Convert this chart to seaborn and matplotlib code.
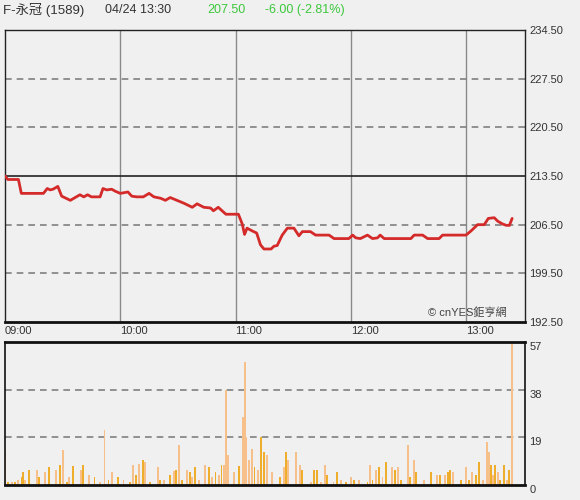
'''
Intraday chart for F-永冠 (1589): price line on top, volume bars below.
'''

import matplotlib
matplotlib.use('Agg')
import matplotlib.pyplot as plt
import seaborn as sns
import pandas as pd

# Price line: minutes after 09:00 and price
price_min = [0, 1.5, 7, 8.5, 20, 22, 23.5, 25, 27.5, 29.5, 31, 34, 36.5, 39, 41,
             43, 45, 49.5, 51, 53, 55.5, 57.5, 60, 64, 66, 68.5, 72, 75, 77.5,
             81, 83.5, 86, 89.5, 93, 97.5, 100, 103.5, 107, 108.5, 111, 115,
             121.5, 123.5, 124.7, 126, 128.7, 131, 133, 134.8, 138.5, 140,
             141.7, 144.3, 147, 150.4, 153, 154.8, 159, 161.7, 168.7, 171.3,
             179, 181, 182.6, 185, 188.7, 191.3, 193.9, 195.3, 197.4, 211.3,
             213, 217.4, 220, 226, 227.8, 240, 242.6, 246, 249.5, 251.6, 254.7,
             256.5, 259, 261, 262.6, 264]
price_val = [213.5, 213.0, 213.0, 211.0, 211.0, 211.7, 211.5, 211.6, 212.0, 210.6,
             210.4, 210.0, 210.4, 210.8, 210.5, 210.8, 210.5, 210.5, 211.7, 211.5,
             211.6, 211.3, 211.0, 211.2, 210.6, 210.5, 210.5, 211.0, 210.5, 210.3,
             210.0, 210.4, 210.0, 209.6, 209.0, 209.5, 209.0, 208.9, 208.5, 209.0,
             208.0, 208.0, 206.6, 205.1, 206.0, 205.6, 205.3, 203.6, 203.0, 203.0,
             203.4, 203.5, 205.0, 206.0, 206.0, 204.9, 205.5, 205.5, 205.0, 205.0,
             204.5, 204.5, 205.0, 204.6, 204.5, 205.0, 204.5, 204.6, 205.0, 204.5,
             204.5, 205.0, 205.0, 204.5, 204.5, 205.0, 205.0, 205.6, 206.5, 206.5,
             207.4, 207.5, 207.0, 206.6, 206.4, 206.4, 207.4]

# Volume bars: minutes after 09:00, volume, colour class (L light / G gold)
vol_min = [0, 1.7, 3.5, 5.2, 7, 8.7, 9.5, 10.4, 12.7, 16.5, 17.9, 20.9, 22.8,
           26.6, 28.7, 30.4, 32.2, 33.5, 35.6, 39.7, 40.8, 43.5, 46.6, 49.6,
           51.8, 53.9, 55.7, 58.6, 61.7, 65.2, 66.6, 68.3, 69.7, 71.8, 73, 75.6,
           79.5, 80.9, 82.6, 86.1, 87.8, 89, 90.8, 92.2, 94.8, 96.2, 97.4, 98.8,
           100.8, 104.3, 106.1, 107.8, 109.6, 111.3, 112.7, 113.9, 114.9, 116,
           119.1, 121.7, 123.8, 124.8, 125.7, 127, 128.7, 129.9, 131.6, 133.4,
           134.8, 136.5, 139.1, 143.1, 145.2, 146.1, 147.3,
           151.3, 153.5, 154.8, 159.1, 160.8, 162.6, 164.3, 166.6, 167.8, 171,
           173, 174.8, 177.4, 180, 181.7, 184.3, 188.7, 189.9, 191.3, 193,
           194.7, 196.5, 198.2, 201.7, 203, 204.7, 206.1, 209.6, 210.9, 213,
           213.9, 218.2, 221.7, 224.7, 226.6, 229, 230.7, 231.8, 233, 237.4,
           240, 241.4, 242.9, 245.2, 246.9, 248.7, 251, 252.1, 253, 253.9,
           255.3, 256.5, 257.7, 259.7, 261.4, 262.6, 263.8]
vol_val = [14, 1, 1, 1, 2, 3, 5, 2, 6, 6, 3, 5, 7,
           6, 8, 14, 1, 3, 7.5, 6, 8, 4, 3, 1,
           22, 2, 5, 3, 2, 1, 8, 4, 8.5, 10, 9, 1,
           7, 2, 2, 4, 5.5, 6, 16, 2, 6, 5, 3, 7,
           2, 8, 7, 3, 5, 4, 8, 8, 38, 12,
           5, 7.5, 27, 49, 19, 10, 14.5, 7, 6, 19,
           13, 12, 5, 3, 7, 13, 10,
           13, 8, 6, 1, 6, 6, 1, 8, 4, 1,
           5, 2, 1, 3, 2, 2, 1, 8, 2, 6,
           7, 3, 9, 7, 6, 7, 2, 16, 3, 10,
           5, 2, 5, 4, 4, 4, 5, 6, 5, 2,
           7, 2, 5, 4, 9, 2, 17, 13, 8, 4,
           8, 5, 2, 8, 2, 6, 57]
vol_cls = ['L', 'G', 'L', 'G', 'L', 'G', 'G', 'L', 'G', 'L', 'G', 'L', 'G',
           'L', 'G', 'L', 'G', 'L', 'G', 'L', 'G', 'L', 'G', 'L',
           'L', 'G', 'L', 'G', 'L', 'G', 'L', 'G', 'L', 'G', 'L', 'G',
           'L', 'G', 'L', 'G', 'L', 'G', 'L', 'G', 'L', 'G', 'L', 'G',
           'L', 'L', 'G', 'L', 'G', 'L', 'G', 'L', 'L', 'L',
           'L', 'G', 'L', 'L', 'L', 'L', 'L', 'G', 'L', 'G',
           'G', 'L', 'L', 'G', 'L', 'G', 'L',
           'L', 'L', 'G', 'L', 'G', 'G', 'L', 'L', 'G', 'L',
           'G', 'L', 'G', 'L', 'G', 'L', 'G', 'L', 'G', 'L',
           'G', 'L', 'G', 'L', 'G', 'L', 'G', 'L', 'G', 'L',
           'G', 'L', 'G', 'L', 'G', 'L', 'G', 'G', 'L', 'G',
           'L', 'G', 'L', 'G', 'G', 'L', 'L', 'L', 'G', 'L',
           'G', 'L', 'G', 'G', 'L', 'G', 'L']

price_ticks = [192.5, 199.5, 206.5, 213.5, 220.5, 227.5, 234.5]
prev_close = 213.5
vol_ticks = [0, 19, 38, 57]
time_ticks = [0, 60, 120, 180, 240]
time_labels = ['09:00', '10:00', '11:00', '12:00', '13:00']

BG = '#f0f0f0'
RED = '#d42a2a'
GREEN = '#3cc83c'
LIGHT = '#f7c08a'
GOLD = '#eeae2c'


def main():
    sns.set_style('white')
    plt.rcParams['font.family'] = ['Liberation Sans', 'Noto Sans CJK TC', 'DejaVu Sans']

    fig = plt.figure(figsize=(5.8, 5.0), dpi=100, facecolor=BG)
    ax = fig.add_axes([5 / 580, 1 - 322 / 500, 520 / 580, 292 / 500])
    axv = fig.add_axes([5 / 580, 1 - 485 / 500, 520 / 580, 143 / 500])

    xmax = 270.7

    # ---- price panel ----
    ax.set_facecolor(BG)
    for t in time_ticks[1:]:
        ax.axvline(t, color='#8a8a8a', lw=1, zorder=1)
    for p in price_ticks[1:-1]:
        if p == prev_close:
            ax.axhline(p, color='#222222', lw=1.2, zorder=1)
        else:
            ax.axhline(p, color='#808080', lw=1.2, ls=(0, (4, 3)), zorder=1)

    df = pd.DataFrame({'t': price_min, 'p': price_val})
    sns.lineplot(data=df, x='t', y='p', ax=ax, color=RED, linewidth=2.0, zorder=3)

    ax.set_xlim(0, xmax)
    ax.set_ylim(price_ticks[0], price_ticks[-1])
    ax.set_xlabel('')
    ax.set_ylabel('')
    ax.set_xticks(time_ticks)
    ax.set_xticklabels(time_labels, ha='left', fontsize=8, color='#333333')
    ax.tick_params(axis='x', length=0, pad=3)
    ax.yaxis.tick_right()
    ax.set_yticks(price_ticks)
    ax.set_yticklabels(['%.2f' % p for p in price_ticks], fontsize=8,
                       color='#333333', va='center_baseline')
    ax.tick_params(axis='y', length=0, pad=3)
    for s in ['left', 'top', 'right']:
        ax.spines[s].set_color('#222222')
        ax.spines[s].set_linewidth(1)
    ax.spines['bottom'].set_color('#111111')
    ax.spines['bottom'].set_linewidth(2)

    ax.text(0.965, 0.012, '© cnYES鉅亨網', transform=ax.transAxes, ha='right',
            va='bottom', fontsize=8, color='#444444')

    # ---- volume panel ----
    axv.set_facecolor(BG)
    for v in vol_ticks[1:-1]:
        axv.axhline(v, color='#808080', lw=1.2, ls=(0, (4, 3)), zorder=1)
    colors = [LIGHT if c == 'L' else GOLD for c in vol_cls]
    axv.bar(vol_min, vol_val, width=1.0, color=colors, zorder=2, linewidth=0)
    axv.set_xlim(0, xmax)
    axv.set_ylim(0, 57)
    axv.set_xticks([])
    axv.yaxis.tick_right()
    axv.set_yticks(vol_ticks)
    axv.set_yticklabels([str(v) for v in vol_ticks], fontsize=8,
                        color='#333333', va='top')
    axv.tick_params(axis='y', length=0, pad=3)
    for s in ['left', 'right', 'bottom']:
        axv.spines[s].set_color('#111111')
        axv.spines[s].set_linewidth(1.2)
    axv.spines['top'].set_color('#111111')
    axv.spines['top'].set_linewidth(2)
    axv.spines['bottom'].set_linewidth(2)

    # ---- header ----
    fig.text(3 / 580, 1 - 10 / 500, 'F-永冠 (1589)', fontsize=9.5, color='#333333',
             va='center')
    fig.text(105 / 580, 1 - 10 / 500, '04/24 13:30', fontsize=9, color='#333333',
             va='center')
    fig.text(207 / 580, 1 - 10 / 500, '207.50', fontsize=9, color=GREEN,
             va='center')
    fig.text(265 / 580, 1 - 10 / 500, '-6.00 (-2.81%)', fontsize=9, color=GREEN,
             va='center')

    fig.savefig('out.png', dpi=100, facecolor=BG)


if __name__ == "__main__":
    main()
